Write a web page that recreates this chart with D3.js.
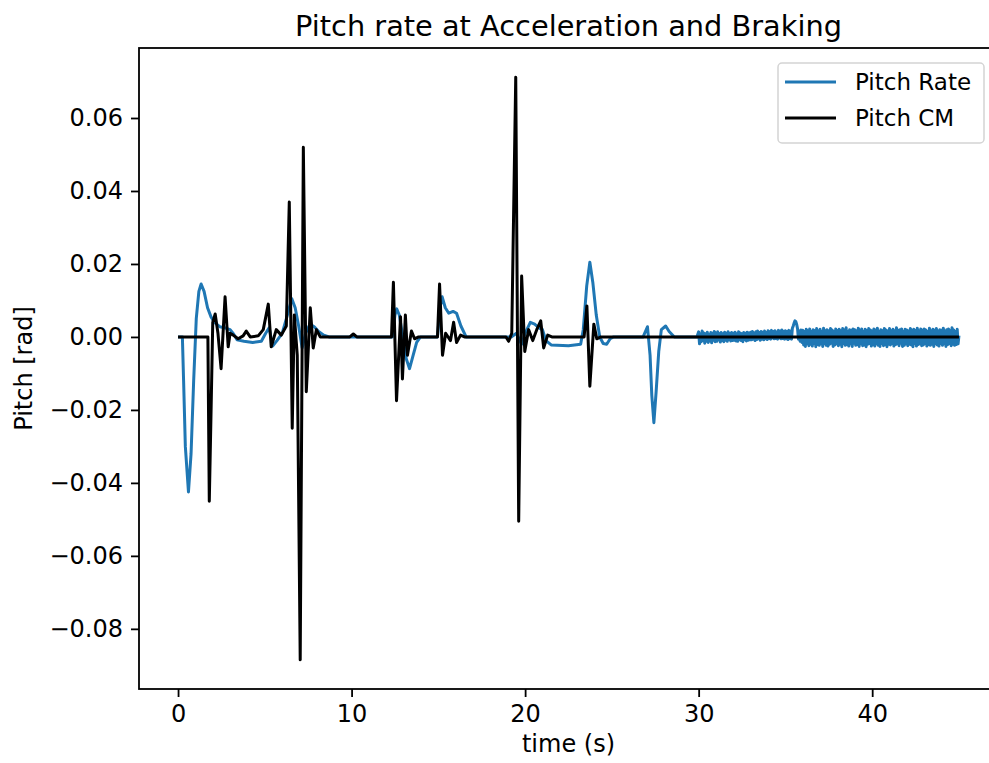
<!DOCTYPE html>
<html>
<head>
  <meta charset="utf-8">
  <script src="https://d3js.org/d3.v7.min.js"></script>
  <style>
    body{
      margin: 0;
      background: #ffffff;
    }
    text{
      font-family: "DejaVu Sans", sans-serif;
      fill: #000000;
    }
    .tick text{
      font-size: 24px;
    }
    .tick line{
      stroke: #000000;
      stroke-width: 1.8px;
    }
    path.domain{
      display: none;
    }
    text.title{
      font-size: 28.8px;
    }
    text.axisLabel{
      font-size: 24px;
    }
    text.legendText{
      font-size: 23px;
    }
  </style>
</head>

<body>
  <script>

  // series as [time (s), pitch (rad)]
  const pitchRatePoints = [
    [0,0],[0.25,0],[0.32,-0.012],[0.42,-0.03],[0.6,-0.0425],[0.75,-0.032],[0.9,-0.012],
    [1.05,0.005],[1.2,0.0125],[1.33,0.0145],[1.5,0.0125],[1.7,0.008],[1.9,0.0055],[2.1,0.004],
    [2.4,0.0028],[2.7,0.0025],[3.0,0.002],[3.2,0.0008],[3.4,-0.0008],[3.8,-0.0012],[4.3,-0.0015],
    [4.8,-0.0012],[5.05,0.001],[5.25,0.0025],[5.45,-0.0025],[5.7,-0.001],[6.0,0.001],[6.3,0.006],
    [6.55,0.0105],[6.75,0.008],[6.95,0.003],[7.15,-0.003],[7.35,0.001],[7.6,0.0035],[7.85,0.0028],
    [8.1,0.0015],[8.4,0.0005],[8.7,0],[12.35,0],[12.5,0.006],[12.6,0.0077],[12.75,0.006],[12.95,0],
    [13.15,-0.006],[13.34,-0.0087],[13.55,-0.005],[13.75,-0.0015],[13.97,0],[14.95,0],[15.1,0.008],
    [15.22,0.011],[15.4,0.008],[15.6,0.0065],[15.85,0.007],[16.05,0.0065],[16.3,0.003],[16.6,0],
    [19.2,0],[19.5,0.001],[19.8,-0.002],[20.0,0.001],[20.3,0.004],[20.55,0.0035],[20.8,0.0025],
    [21.0,0.002],[21.2,-0.001],[21.5,-0.0022],[22.5,-0.0024],[23.2,-0.002],[23.35,0.002],
    [23.55,0.014],[23.73,0.0205],[23.9,0.015],[24.1,0.006],[24.3,0],[24.5,-0.0018],[24.7,-0.002],
    [24.9,-0.0005],[25.1,0],[26.8,0],[27.05,0.0028],[27.2,-0.005],[27.3,-0.016],[27.42,-0.0235],
    [27.55,-0.015],[27.7,-0.004],[27.85,0.002],[28.1,0.003],[28.3,0.0015],[28.6,0],[29.9,0]
  ];

  // noisy tail of the pitch rate, one value every 0.05 s from 30 s to 45 s (a row per second)
  const tailStart = 30;
  const tailStep = 0.05;
  const rateTailValues = [
    0.0014,-0.0019,0.0008,-0.0013,0.0016,-0.0010,0.0011,-0.0017,0.0009,-0.0012,0.0013,-0.0015,0.0007,-0.0011,0.0012,-0.0016,0.0010,-0.0009,0.0015,-0.0013,
    0.0011,-0.0012,0.0014,-0.0008,0.0009,-0.0014,0.0012,-0.0010,0.0008,-0.0013,0.0013,-0.0009,0.0010,-0.0012,0.0014,-0.0007,0.0009,-0.0011,0.0012,-0.0010,
    0.0010,-0.0009,0.0013,-0.0011,0.0008,-0.0012,0.0014,-0.0008,0.0011,-0.0010,0.0009,-0.0013,0.0012,-0.0007,0.0010,-0.0011,0.0013,-0.0009,0.0011,-0.0008,
    0.0013,-0.0008,0.0015,-0.0006,0.0011,-0.0010,0.0014,-0.0007,0.0016,-0.0005,0.0012,-0.0009,0.0015,-0.0006,0.0013,-0.0008,0.0016,-0.0005,0.0012,-0.0007,
    0.0017,-0.0004,0.0014,-0.0006,0.0018,-0.0003,0.0015,-0.0005,0.0017,-0.0004,0.0013,-0.0006,0.0018,-0.0003,0.0016,-0.0005,0.0019,-0.0004,0.0015,-0.0006,
    0.0017,-0.0005,0.0015,-0.0007,0.0018,-0.0004,0.0016,-0.0006,0.0024,0.0030,0.0038,0.0044,0.0042,0.0034,0.0022,-0.0006,0.0016,-0.0012,0.0019,-0.0015,
    0.0018,-0.0022,0.0014,-0.0026,0.0021,-0.0019,0.0016,-0.0024,0.0022,-0.0020,0.0015,-0.0025,0.0020,-0.0018,0.0017,-0.0027,0.0023,-0.0021,0.0016,-0.0023,
    0.0021,-0.0019,0.0015,-0.0026,0.0024,-0.0018,0.0017,-0.0023,0.0020,-0.0025,0.0016,-0.0020,0.0023,-0.0017,0.0019,-0.0026,0.0015,-0.0022,0.0022,-0.0019,
    0.0017,-0.0024,0.0021,-0.0020,0.0016,-0.0027,0.0023,-0.0018,0.0019,-0.0023,0.0025,-0.0021,0.0015,-0.0025,0.0020,-0.0019,0.0018,-0.0026,0.0022,-0.0017,
    0.0020,-0.0023,0.0016,-0.0021,0.0024,-0.0026,0.0018,-0.0019,0.0022,-0.0024,0.0015,-0.0022,0.0021,-0.0027,0.0017,-0.0020,0.0023,-0.0018,0.0019,-0.0025,
    0.0016,-0.0021,0.0022,-0.0025,0.0018,-0.0019,0.0024,-0.0023,0.0015,-0.0026,0.0020,-0.0018,0.0017,-0.0024,0.0023,-0.0021,0.0019,-0.0027,0.0016,-0.0020,
    0.0023,-0.0022,0.0017,-0.0018,0.0021,-0.0025,0.0016,-0.0021,0.0025,-0.0019,0.0018,-0.0024,0.0020,-0.0017,0.0022,-0.0026,0.0015,-0.0023,0.0021,-0.0019,
    0.0019,-0.0024,0.0016,-0.0020,0.0023,-0.0022,0.0018,-0.0027,0.0021,-0.0018,0.0017,-0.0025,0.0024,-0.0021,0.0016,-0.0019,0.0022,-0.0024,0.0018,-0.0022,
    0.0022,-0.0018,0.0019,-0.0025,0.0015,-0.0021,0.0024,-0.0023,0.0017,-0.0020,0.0021,-0.0026,0.0018,-0.0019,0.0023,-0.0022,0.0016,-0.0025,0.0020,-0.0018,
    0.0018,-0.0023,0.0024,-0.0019,0.0016,-0.0026,0.0020,-0.0021,0.0022,-0.0018,0.0017,-0.0024,0.0025,-0.0020,0.0019,-0.0023,0.0015,-0.0021,0.0021,-0.0019,
    0.0004
  ];

  const pitchCmPoints = [
    [0,0],[1.72,0],[1.80,-0.045],[1.90,-0.021],[2.00,0.004],[2.14,0.0063],[2.30,0.001],
    [2.48,-0.0087],[2.71,0.011],[2.89,-0.0027],[3.0,0.001],[3.18,0.0005],[3.46,-0.0005],
    [3.75,0.0003],[3.93,0.0016],[4.16,0],[4.62,0.0003],[4.91,0.002],[5.20,0.009],[5.37,-0.0027],
    [5.66,0.002],[5.95,0.0005],[6.24,0.003],[6.41,0.037],[6.58,-0.025],[6.70,0.006],[6.87,-0.005],
    [7.04,-0.0885],[7.22,0.052],[7.39,-0.015],[7.62,0.008],[7.79,-0.003],[7.97,0.002],[8.2,0],
    [9.9,0],[10.1,0.0008],[10.3,0],[12.3,0],[12.41,0.015],[12.59,-0.0175],[12.82,0.0055],
    [12.93,-0.0115],[13.1,0.006],[13.22,-0.005],[13.45,0.0016],[13.63,-0.0005],[13.86,0],
    [14.95,0],[15.07,0.0145],[15.24,-0.005],[15.42,0.001],[15.7,-0.001],[15.88,0.004],
    [16.05,-0.0015],[16.28,0.0005],[16.5,0],[18.9,0],[19.05,-0.0012],[19.23,0.001],
    [19.46,0.0712],[19.63,-0.0505],[19.8,0.0167],[19.98,-0.004],[20.2,0.002],[20.44,-0.001],
    [20.67,0.002],[20.9,0.0044],[21.07,-0.003],[21.3,0.0005],[21.54,0],[23.4,0],[23.56,0.0085],
    [23.73,-0.0135],[23.96,0.0035],[24.13,-0.0005],[24.36,0],[45,0]
  ];

  const seriesNames = ['Pitch Rate', 'Pitch CM'];
  const seriesColors = ['#1f77b4', '#000000'];
  const xTicks = [0, 10, 20, 30, 40];
  const yTicks = [-0.08, -0.06, -0.04, -0.02, 0.00, 0.02, 0.04, 0.06];

  var width = 989;
  var height = 763;
  const margin = {top: 48, left: 139};
  const plotW = 859;
  const plotH = 641;

  const pitchRate = pitchRatePoints.concat(
    rateTailValues.map((v, i) => [tailStart + i*tailStep, v]));
  const series = [pitchRate, pitchCmPoints];

  // matplotlib style 5% margins on both axes
  const allPts = pitchRate.concat(pitchCmPoints);
  const xExt = d3.extent(allPts, d => d[0]);
  const yExt = d3.extent(allPts, d => d[1]);
  const xPad = (xExt[1]-xExt[0])*0.05;
  const yPad = (yExt[1]-yExt[0])*0.05;

  let x = d3.scaleLinear()
      .domain([xExt[0]-xPad, xExt[1]+xPad])
      .range([0, plotW]);

  let y = d3.scaleLinear()
      .domain([yExt[0]-yPad, yExt[1]+yPad])
      .range([plotH, 0]);

  var svg = d3.select('body').append('svg')
    .attr('width', width)
    .attr('height', height);

  svg.append('rect')
    .attr('width', width)
    .attr('height', height)
    .style('fill', '#ffffff');

  let g = svg.append('g')
    .attr('transform', `translate(${margin.left}, ${margin.top})`);

  g.append('clipPath')
    .attr('id', 'plotClip')
    .append('rect')
    .attr('width', plotW)
    .attr('height', plotH);

  let line = d3.line()
    .x(d => x(d[0]))
    .y(d => y(d[1]));

  g.append('g')
    .attr('clip-path', 'url(#plotClip)')
    .selectAll('path.series')
    .data(series)
    .enter()
    .append('path')
    .attr('class', 'series')
    .attr('d', d => line(d))
    .style('fill', 'none')
    .style('stroke', (d, i) => seriesColors[i])
    .style('stroke-width', 3)
    .style('stroke-linejoin', 'round');

  // axes
  let xAxis = d3.axisBottom(x)
    .tickValues(xTicks)
    .tickSize(8)
    .tickPadding(8)
    .tickFormat(d3.format('d'));

  let yAxis = d3.axisLeft(y)
    .tickValues(yTicks)
    .tickSize(8)
    .tickPadding(8)
    .tickFormat(d3.format('.2f'));

  g.append('g')
    .attr('class', 'axis xAxis')
    .attr('transform', `translate(0, ${plotH})`)
    .call(xAxis);

  g.append('g')
    .attr('class', 'axis yAxis')
    .call(yAxis);

  g.selectAll('.tick text').attr('font-size', null).attr('font-family', null);

  // frame
  g.append('rect')
    .attr('width', plotW)
    .attr('height', plotH)
    .style('fill', 'none')
    .style('stroke', '#000000')
    .style('stroke-width', 1.8);

  // labels
  svg.append('text')
    .attr('class', 'title')
    .attr('x', margin.left + plotW/2)
    .attr('y', 36)
    .style('text-anchor', 'middle')
    .text('Pitch rate at Acceleration and Braking');

  svg.append('text')
    .attr('class', 'axisLabel')
    .attr('x', margin.left + plotW/2)
    .attr('y', 752)
    .style('text-anchor', 'middle')
    .text('time (s)');

  svg.append('text')
    .attr('class', 'axisLabel')
    .attr('transform', `translate(32, ${margin.top + plotH/2}) rotate(-90)`)
    .style('text-anchor', 'middle')
    .text('Pitch [rad]');

  // legend
  let legend = svg.append('g')
    .attr('transform', 'translate(778, 63)');

  legend.append('rect')
    .attr('width', 206)
    .attr('height', 80)
    .attr('rx', 4)
    .style('fill', '#ffffff')
    .style('fill-opacity', 0.8)
    .style('stroke', '#d4d4d4')
    .style('stroke-width', 1.5);

  let items = legend.selectAll('g.item')
    .data(seriesNames)
    .enter()
    .append('g')
    .attr('class', 'item')
    .attr('transform', (d, i) => `translate(0, ${19 + i*36})`);

  items.append('line')
    .attr('x1', 7)
    .attr('x2', 58)
    .style('stroke', (d, i) => seriesColors[i])
    .style('stroke-width', 3);

  items.append('text')
    .attr('class', 'legendText')
    .attr('x', 77)
    .attr('y', 8)
    .text(d => d);

  </script>
</body>
</html>
